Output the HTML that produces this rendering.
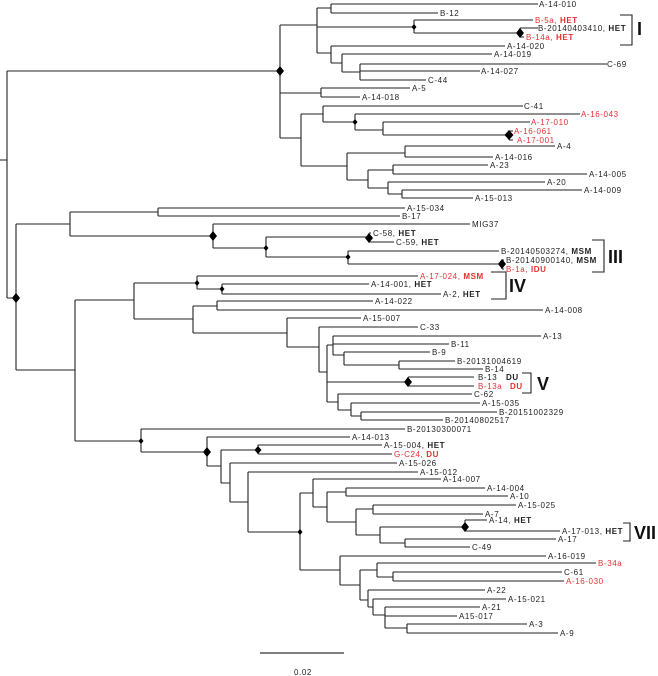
<!DOCTYPE html>
<html><head><meta charset="utf-8"><style>
html,body{margin:0;padding:0;background:#fff;}
svg{display:block;}
text{font-family:"Liberation Sans",Arial,sans-serif;font-size:8px;fill:#222;letter-spacing:0.6px;}
.r{fill:#e53030;}
.b{font-weight:bold;}
.n{font-family:"Liberation Sans Narrow","Liberation Sans",sans-serif;font-weight:bold;font-size:18px;fill:#111;letter-spacing:0;}
</style></head><body>
<svg width="658" height="676" viewBox="0 0 658 676" xmlns="http://www.w3.org/2000/svg">
<path fill="none" stroke="#222" stroke-width="1.1" d="
M0 160H7M7 71V298M7 71H280M7 298H16
M280 25V138M280 25H317M317 8V53M317 8H331M331 4V13M331 4H538M331 13H438M317 27H414M414 20V33M414 20H533M414 33H520M520 28V37M520 28H538M520 37H524M317 53H331M331 46V63M331 46H505M331 63H342M342 54V72M342 54H492M342 72H360M360 64V80M360 64H607M360 71H480M360 80H426
M280 93H321M321 88V97M321 88H410M321 97H360
M280 138H301M301 114V166M301 114H323M323 106V122M323 106H523M323 122H355M355 114V130M355 114H580M355 130H383M383 122V135M383 122H530M383 135H509M509 131V140M509 131H513M509 140H513
M301 166H347M347 153V180M347 153H405M405 146V157M405 146H555M405 157H493M347 180H368M368 170V188M368 170H393M393 165V174M393 165H488M393 174H587M368 188H388M388 182V194M388 182H545M388 194H402M402 190V198M402 190H582M402 198H473
M16 224V370M16 224H70M70 212V236M70 212H158M158 208V216M158 208H405M158 216H400M70 236H213M213 224V248M213 224H470M213 248H266M266 237V257M266 237H369M369 233V242M369 233H371M369 242H394M266 257H348M348 251V264M348 251H499M348 264H502M502 260V269M502 260H504M502 269H504
M16 370H75M75 300V441M75 300H134M134 283V319M134 283H197M197 276V289M197 276H418M197 289H222M222 284V294M222 284H369M222 294H441M134 319H193M193 306V333M193 306H217M217 301V310M217 301H373M217 310H543M193 333H287M287 318V347M287 318H361M287 347H319M319 327V372M319 327H418M319 372H327M327 345V402M327 345H333M333 336V355M333 336H541M333 344H449M333 355H344M344 352V365M344 352H430M344 365H399M399 361V369M399 361H455M399 369H483M327 382H408M408 377V386M408 377H474M408 386H474M327 402H338M338 394V410M338 394H472M338 410H351M351 403V416M351 403H480M351 416H361M361 412V420M361 412H497M361 420H443
M75 441H141M141 429V452M141 429H405M141 452H207M207 437V466M207 437H350M207 466H221M221 450V483M221 450H258M258 445V454M258 445H382M258 454H392M221 483H230M230 463V502M230 463H397M230 502H248M248 472V532M248 472H418M248 532H300M300 493V570M300 493H313M313 479V507M313 479H441M313 507H327M327 492V522M327 492H346M346 488V496M346 488H485M346 496H508M327 522H356M356 509V535M356 509H373M373 505V514M373 505H516M373 514H483M356 535H380M380 527V543M380 527H465M465 520V531M465 520H487M465 531H560M380 543H405M405 539V547M405 539H556M405 547H470
M300 570H340M340 556V585M340 556H546M340 585H360M360 570V600M360 570H377M377 563V577M377 563H596M377 577H393M393 572V581M393 572H562M393 581H564M360 600H368M368 590V607M368 590H485M368 607H373M373 599V615M373 599H506M373 615H385M385 607V628M385 607H480M385 616H457M385 628H407M407 624V633M407 624H527M407 633H558
M620 15H632V45H620M592 240H604V272H592M491 272H506V299H491M522 373H531V393H522M623 523H630V541H623"/>
<g fill="#000">
<path d="M280 66l4 5-4 5-4-5z"/><path d="M414 24l2.5 3-2.5 3-2.5-3z"/><path d="M520 28l4 5-4 5-4-5z"/><path d="M355 119l2.5 3-2.5 3-2.5-3z"/><path d="M509 130l4.5 5-4.5 5-4.5-5z"/>
<path d="M16 293l4 5-4 5-4-5z"/><path d="M213 231l4 5-4 5-4-5z"/><path d="M266 245l2.5 3-2.5 3-2.5-3z"/><path d="M369 233l4 5-4 5-4-5z"/><path d="M348 254l2.5 3-2.5 3-2.5-3z"/><path d="M502 259l4 5-4 5-4-5z"/>
<path d="M197 280l2.5 3-2.5 3-2.5-3z"/><path d="M222 286l2.5 3-2.5 3-2.5-3z"/><path d="M408 377l4 5-4 5-4-5z"/><path d="M141 438l2.5 3-2.5 3-2.5-3z"/><path d="M207 447l4 5-4 5-4-5z"/><path d="M258 446l3.5 4-3.5 4-3.5-4z"/><path d="M300 529l2.5 3-2.5 3-2.5-3z"/><path d="M465 522l4 5-4 5-4-5z"/>
</g>
<g>
<text x="539" y="7">A-14-010</text><text x="440" y="16">B-12</text>
<text x="535" y="23" class="r">B-5a, <tspan class="b">HET</tspan></text>
<text x="538" y="31">B-20140403410, <tspan class="b">HET</tspan></text>
<text x="526" y="40" class="r">B-14a, <tspan class="b">HET</tspan></text>
<text x="507" y="49">A-14-020</text><text x="494" y="57">A-14-019</text><text x="607" y="67">C-69</text><text x="481" y="74">A-14-027</text><text x="428" y="83">C-44</text><text x="412" y="91">A-5</text><text x="362" y="100">A-14-018</text>
<text x="524" y="109">C-41</text><text x="581" y="117" class="r">A-16-043</text><text x="531" y="125" class="r">A-17-010</text><text x="514" y="134" class="r">A-16-061</text><text x="517" y="143" class="r">A-17-001</text>
<text x="557" y="149">A-4</text><text x="495" y="160">A-14-016</text><text x="490" y="168">A-23</text><text x="589" y="177">A-14-005</text><text x="547" y="185">A-20</text><text x="584" y="193">A-14-009</text><text x="475" y="201">A-15-013</text>
<text x="407" y="211">A-15-034</text><text x="402" y="219">B-17</text><text x="472" y="227">MIG37</text>
<text x="373" y="236">C-58, <tspan class="b">HET</tspan></text><text x="396" y="245">C-59, <tspan class="b">HET</tspan></text>
<text x="501" y="254">B-20140503274, <tspan class="b">MSM</tspan></text><text x="506" y="263">B-20140900140, <tspan class="b">MSM</tspan></text><text x="506" y="272" class="r">B-1a, <tspan class="b">IDU</tspan></text>
<text x="420" y="279" class="r">A-17-024, <tspan class="b">MSM</tspan></text><text x="371" y="287">A-14-001, <tspan class="b">HET</tspan></text><text x="443" y="297">A-2, <tspan class="b">HET</tspan></text>
<text x="375" y="304">A-14-022</text><text x="545" y="313">A-14-008</text><text x="363" y="321">A-15-007</text><text x="420" y="330">C-33</text><text x="543" y="339">A-13</text><text x="451" y="347">B-11</text><text x="432" y="355">B-9</text><text x="457" y="364">B-20131004619</text><text x="485" y="372">B-14</text>
<text x="478" y="380">B-13 <tspan x="506" class="b">DU</tspan></text><text x="478" y="389" class="r">B-13a <tspan x="510" class="b">DU</tspan></text>
<text x="474" y="397">C-62</text><text x="482" y="406">A-15-035</text><text x="499" y="415">B-20151002329</text><text x="445" y="423">B-20140802517</text><text x="407" y="432">B-20130300071</text>
<text x="352" y="440">A-14-013</text><text x="384" y="448">A-15-004, <tspan class="b">HET</tspan></text><text x="394" y="457" class="r">G-C24, <tspan class="b">DU</tspan></text>
<text x="399" y="466">A-15-026</text><text x="420" y="475">A-15-012</text><text x="443" y="482">A-14-007</text><text x="487" y="491">A-14-004</text><text x="510" y="499">A-10</text><text x="518" y="508">A-15-025</text><text x="485" y="517">A-7</text>
<text x="489" y="523">A-14, <tspan class="b">HET</tspan></text><text x="562" y="534">A-17-013, <tspan class="b">HET</tspan></text><text x="558" y="542">A-17</text><text x="472" y="550">C-49</text>
<text x="548" y="559">A-16-019</text><text x="598" y="566" class="r">B-34a</text><text x="564" y="575">C-61</text><text x="566" y="584" class="r">A-16-030</text>
<text x="487" y="593">A-22</text><text x="508" y="602">A-15-021</text><text x="482" y="610">A-21</text><text x="459" y="619">A15-017</text><text x="529" y="627">A-3</text><text x="560" y="636">A-9</text>
</g>
<text x="637" y="35" class="n">I</text><text x="608" y="263" class="n">III</text><text x="509" y="292" class="n">IV</text><text x="537" y="390" class="n">V</text><text x="634" y="539" class="n">VII</text>
<line x1="260" y1="653" x2="344" y2="653" stroke="#555" stroke-width="1.5"/>
<text x="294" y="675">0.02</text>
</svg>
</body></html>
